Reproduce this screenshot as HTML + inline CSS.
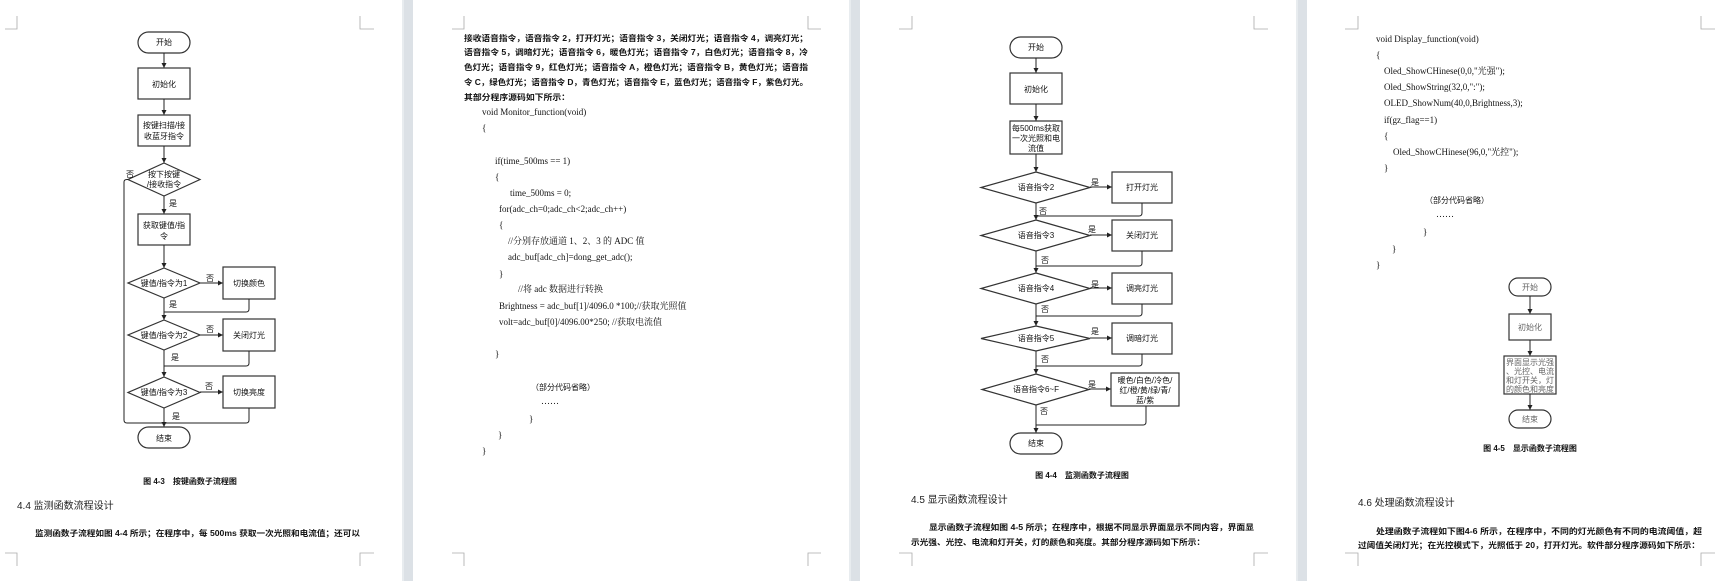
<!DOCTYPE html>
<html><head><meta charset="utf-8"><style>
html,body{margin:0;padding:0;background:#fff;}
svg{display:block}
.c{font-family:"Liberation Sans","Noto Sans CJK SC",sans-serif;font-size:8px;fill:#111;}
.b{font-weight:bold;}
.s{font-family:"Liberation Serif","Noto Serif CJK SC","Noto Sans CJK SC",serif;font-size:9px;fill:#111;}
.h{font-family:"Liberation Sans","Noto Sans CJK SC",sans-serif;font-size:10px;fill:#222;}
.k{stroke:#222;stroke-width:1;fill:none;}
.bx{stroke:#333;stroke-width:1.2;fill:#fff;}
.m{stroke:#aaa;stroke-width:0.8;fill:none;}
</style></head><body>
<svg width="1722" height="581" viewBox="0 0 1722 581" xmlns="http://www.w3.org/2000/svg">
<defs>
<marker id="a" markerWidth="6" markerHeight="6" refX="5" refY="3" orient="auto" markerUnits="userSpaceOnUse"><path d="M0,0.5 L5,3 L0,5.5 z" fill="#222"/></marker>
</defs>
<rect width="1722" height="581" fill="#fff"/>
<rect x="402" y="0" width="11" height="581" fill="#dce1e6"/><rect x="402" y="0" width="2" height="581" fill="#e8ecef"/>
<rect x="849" y="0" width="11" height="581" fill="#dce1e6"/><rect x="849" y="0" width="2" height="581" fill="#e8ecef"/>
<rect x="1296" y="0" width="11" height="581" fill="#dce1e6"/><rect x="1296" y="0" width="2" height="581" fill="#e8ecef"/>

<!-- corner marks -->
<path class="m" d="M5,29H17V16 M374,29H360V16 M5,553H17V566 M374,553H360V566"/>
<path class="m" d="M452,29H464V16 M821,29H808V16 M452,553H464V566 M821,553H808V566"/>
<path class="m" d="M899,29H912V16 M1268,29H1254V16 M899,553H912V566 M1268,553H1254V566"/>
<path class="m" d="M1345,29H1358V16 M1715,29H1701V16 M1345,553H1358V566 M1715,553H1701V566"/>

<!-- PAGE 1 flowchart -->
<rect class="bx" x="138" y="32" width="52" height="21" rx="10.5"/>
<text class="c" x="164" y="45" text-anchor="middle">开始</text>
<line class="k" x1="164" y1="53" x2="164" y2="68" marker-end="url(#a)"/>
<rect class="bx" x="138" y="68" width="52" height="31"/>
<text class="c" x="164" y="87" text-anchor="middle">初始化</text>
<line class="k" x1="164" y1="99" x2="164" y2="115" marker-end="url(#a)"/>
<rect class="bx" x="138" y="115" width="52" height="31"/>
<text class="c" x="164" y="128" text-anchor="middle">按键扫描/接</text>
<text class="c" x="164" y="139" text-anchor="middle">收蓝牙指令</text>
<line class="k" x1="164" y1="146" x2="164" y2="163" marker-end="url(#a)"/>
<path class="bx" d="M164,163 L200,179.5 L164,196 L128,179.5 Z"/>
<text class="c" x="164" y="177" text-anchor="middle">按下按键</text>
<text class="c" x="164" y="187" text-anchor="middle">/接收指令</text>
<text class="c" x="126" y="177">否</text>
<text class="c" x="169" y="206">是</text>
<line class="k" x1="164" y1="196" x2="164" y2="214" marker-end="url(#a)"/>
<rect class="bx" x="138" y="214" width="52" height="31"/>
<text class="c" x="164" y="228" text-anchor="middle">获取键值/指</text>
<text class="c" x="164" y="239" text-anchor="middle">令</text>
<line class="k" x1="164" y1="245" x2="164" y2="268" marker-end="url(#a)"/>
<path class="bx" d="M164,268 L200,283 L164,298 L128,283 Z"/>
<text class="c" x="164" y="286" text-anchor="middle">键值/指令为1</text>
<text class="c" x="206" y="281">否</text>
<line class="k" x1="200" y1="283" x2="223" y2="283" marker-end="url(#a)"/>
<rect class="bx" x="223" y="267" width="52" height="32"/>
<text class="c" x="249" y="286" text-anchor="middle">切换颜色</text>
<text class="c" x="169" y="307">是</text>
<line class="k" x1="164" y1="298" x2="164" y2="320" marker-end="url(#a)"/>
<path class="k" d="M249,299 V309 Q249,312 246,312 H164"/>
<path class="bx" d="M164,320 L200,335 L164,350 L128,335 Z"/>
<text class="c" x="164" y="338" text-anchor="middle">键值/指令为2</text>
<text class="c" x="206" y="332">否</text>
<line class="k" x1="200" y1="335" x2="223" y2="335" marker-end="url(#a)"/>
<rect class="bx" x="223" y="319" width="52" height="32"/>
<text class="c" x="249" y="338" text-anchor="middle">关闭灯光</text>
<text class="c" x="171" y="360">是</text>
<line class="k" x1="164" y1="350" x2="164" y2="377" marker-end="url(#a)"/>
<path class="k" d="M249,351 V363 Q249,366 246,366 H164"/>
<path class="bx" d="M164,377 L200,392.5 L164,408 L128,392.5 Z"/>
<text class="c" x="164" y="395" text-anchor="middle">键值/指令为3</text>
<text class="c" x="205" y="389">否</text>
<line class="k" x1="200" y1="392" x2="223" y2="392" marker-end="url(#a)"/>
<rect class="bx" x="223" y="376" width="52" height="32"/>
<text class="c" x="249" y="395" text-anchor="middle">切换亮度</text>
<text class="c" x="172" y="419">是</text>
<line class="k" x1="164" y1="408" x2="164" y2="427" marker-end="url(#a)"/>
<path class="k" d="M249,408 V420 Q249,423 246,423 H127 Q124,423 124,420 V182 Q124,179.5 127,179.5 H128"/>
<rect class="bx" x="138" y="427" width="52" height="21" rx="10.5"/>
<text class="c" x="164" y="441" text-anchor="middle">结束</text>
<text class="c b" x="190" y="484" text-anchor="middle" font-size="7.5">图 4-3　按键函数子流程图</text>
<text class="h" x="17" y="509">4.4 监测函数流程设计</text>
<text class="c b" x="35" y="536" textLength="325" lengthAdjust="spacingAndGlyphs">监测函数子流程如图 4-4 所示；在程序中，每 500ms 获取一次光照和电流值；还可以</text>

<!-- PAGE 2 -->
<g class="c b">
<text x="464" y="41" textLength="344" lengthAdjust="spacingAndGlyphs">接收语音指令，语音指令 2，打开灯光；语音指令 3，关闭灯光；语音指令 4，调亮灯光；</text>
<text x="464" y="55" textLength="344" lengthAdjust="spacingAndGlyphs">语音指令 5，调暗灯光；语音指令 6，暖色灯光；语音指令 7，白色灯光；语音指令 8，冷</text>
<text x="464" y="70" textLength="344" lengthAdjust="spacingAndGlyphs">色灯光；语音指令 9，红色灯光；语音指令 A，橙色灯光；语音指令 B，黄色灯光；语音指</text>
<text x="464" y="85" textLength="344" lengthAdjust="spacingAndGlyphs">令 C，绿色灯光；语音指令 D，青色灯光；语音指令 E，蓝色灯光；语音指令 F，紫色灯光。</text>
<text x="464" y="100" textLength="106" lengthAdjust="spacingAndGlyphs">其部分程序源码如下所示：</text>
</g>
<g class="s">
<text x="482" y="115">void Monitor_function(void)</text>
<text x="482" y="131">{</text>
<text x="495" y="164">if(time_500ms == 1)</text>
<text x="495" y="180">{</text>
<text x="510" y="196">time_500ms = 0;</text>
<text x="499" y="212">for(adc_ch=0;adc_ch&lt;2;adc_ch++)</text>
<text x="499" y="228">{</text>
<text x="508" y="244">//分别存放通道 1、2、3 的 ADC 值</text>
<text x="508" y="260">adc_buf[adc_ch]=dong_get_adc();</text>
<text x="499" y="277">}</text>
<text x="518" y="292">//将 adc 数据进行转换</text>
<text x="499" y="309">Brightness = adc_buf[1]/4096.0 *100;//获取光照值</text>
<text x="499" y="325">volt=adc_buf[0]/4096.00*250;   //获取电流值</text>
<text x="495" y="357">}</text>
<text x="531" y="390" class="c">（部分代码省略）</text>
<text x="541" y="404">……</text>
<text x="529" y="422">}</text>
<text x="498" y="438">}</text>
<text x="482" y="454">}</text>
</g>

<!-- PAGE 3 flowchart -->
<rect class="bx" x="1010" y="37" width="52" height="21" rx="10.5"/>
<text class="c" x="1036" y="50" text-anchor="middle">开始</text>
<line class="k" x1="1036" y1="58" x2="1036" y2="73" marker-end="url(#a)"/>
<rect class="bx" x="1010" y="73" width="52" height="31"/>
<text class="c" x="1036" y="92" text-anchor="middle">初始化</text>
<line class="k" x1="1036" y1="104" x2="1036" y2="121" marker-end="url(#a)"/>
<rect class="bx" x="1010" y="121" width="52" height="33"/>
<text class="c" x="1036" y="131" text-anchor="middle" font-size="7">每500ms获取</text>
<text class="c" x="1036" y="141" text-anchor="middle" font-size="7">一次光照和电</text>
<text class="c" x="1036" y="151" text-anchor="middle" font-size="7">流值</text>
<line class="k" x1="1036" y1="154" x2="1036" y2="172" marker-end="url(#a)"/>

<path class="bx" d="M1036,172 L1090,187.5 L1036,203 L981,187.5 Z"/>
<text class="c" x="1036" y="190" text-anchor="middle" font-size="7">语音指令2</text>
<text class="c" x="1091" y="185">是</text>
<line class="k" x1="1090" y1="187" x2="1112" y2="187" marker-end="url(#a)"/>
<rect class="bx" x="1112" y="172" width="60" height="31"/>
<text class="c" x="1142" y="190" text-anchor="middle">打开灯光</text>
<text class="c" x="1039" y="214">否</text>
<line class="k" x1="1036" y1="203" x2="1036" y2="220" marker-end="url(#a)"/>
<path class="k" d="M1142,203 V213 Q1142,216 1139,216 H1036"/>

<path class="bx" d="M1036,220 L1090,235.5 L1036,251 L981,235.5 Z"/>
<text class="c" x="1036" y="238" text-anchor="middle" font-size="7">语音指令3</text>
<text class="c" x="1088" y="232">是</text>
<line class="k" x1="1090" y1="235" x2="1112" y2="235" marker-end="url(#a)"/>
<rect class="bx" x="1112" y="220" width="60" height="31"/>
<text class="c" x="1142" y="238" text-anchor="middle">关闭灯光</text>
<text class="c" x="1041" y="263">否</text>
<line class="k" x1="1036" y1="251" x2="1036" y2="273" marker-end="url(#a)"/>
<path class="k" d="M1142,251 V263 Q1142,266 1139,266 H1036"/>

<path class="bx" d="M1036,273 L1090,288.5 L1036,304 L981,288.5 Z"/>
<text class="c" x="1036" y="291" text-anchor="middle" font-size="7">语音指令4</text>
<text class="c" x="1091" y="287">是</text>
<line class="k" x1="1090" y1="288" x2="1112" y2="288" marker-end="url(#a)"/>
<rect class="bx" x="1112" y="273" width="60" height="31"/>
<text class="c" x="1142" y="291" text-anchor="middle">调亮灯光</text>
<text class="c" x="1041" y="312">否</text>
<line class="k" x1="1036" y1="304" x2="1036" y2="326" marker-end="url(#a)"/>
<path class="k" d="M1142,304 V313 Q1142,316 1139,316 H1036"/>

<path class="bx" d="M1036,326 L1090,338.5 L1036,351 L981,338.5 Z"/>
<text class="c" x="1036" y="341" text-anchor="middle" font-size="7">语音指令5</text>
<text class="c" x="1091" y="334">是</text>
<line class="k" x1="1090" y1="338" x2="1112" y2="338" marker-end="url(#a)"/>
<rect class="bx" x="1112" y="323" width="60" height="31"/>
<text class="c" x="1142" y="341" text-anchor="middle">调暗灯光</text>
<text class="c" x="1041" y="362">否</text>
<line class="k" x1="1036" y1="351" x2="1036" y2="374" marker-end="url(#a)"/>
<path class="k" d="M1142,354 V363 Q1142,366 1139,366 H1036"/>

<path class="bx" d="M1036,374 L1089,389.5 L1036,405 L982,389.5 Z"/>
<text class="c" x="1036" y="392" text-anchor="middle" font-size="7">语音指令6~F</text>
<text class="c" x="1088" y="387">是</text>
<line class="k" x1="1089" y1="389" x2="1111" y2="389" marker-end="url(#a)"/>
<rect class="bx" x="1111" y="373" width="68" height="33"/>
<text class="c" x="1145" y="383" text-anchor="middle" font-size="7.5">暖色/白色/冷色/</text>
<text class="c" x="1145" y="393" text-anchor="middle" font-size="7.5">红/橙/黄/绿/青/</text>
<text class="c" x="1145" y="403" text-anchor="middle" font-size="7.5">蓝/紫</text>
<text class="c" x="1040" y="414">否</text>
<line class="k" x1="1036" y1="405" x2="1036" y2="433" marker-end="url(#a)"/>
<path class="k" d="M1146,406 V422 Q1146,425 1143,425 H1036"/>
<rect class="bx" x="1010" y="433" width="52" height="21" rx="10.5"/>
<text class="c" x="1036" y="446" text-anchor="middle">结束</text>
<text class="c b" x="1082" y="478" text-anchor="middle" font-size="7.5">图 4-4　监测函数子流程图</text>
<text class="h" x="911" y="503">4.5 显示函数流程设计</text>
<text class="c b" x="929" y="530" textLength="325" lengthAdjust="spacingAndGlyphs">显示函数子流程如图 4-5 所示；在程序中，根据不同显示界面显示不同内容，界面显</text>
<text class="c b" x="911" y="545" textLength="294" lengthAdjust="spacingAndGlyphs">示光强、光控、电流和灯开关，灯的颜色和亮度。其部分程序源码如下所示：</text>

<!-- PAGE 4 -->
<g class="s">
<text x="1376" y="42">void Display_function(void)</text>
<text x="1376" y="58">{</text>
<text x="1384" y="74">Oled_ShowCHinese(0,0,"光强");</text>
<text x="1384" y="90">Oled_ShowString(32,0,":");</text>
<text x="1384" y="106">OLED_ShowNum(40,0,Brightness,3);</text>
<text x="1384" y="123">if(gz_flag==1)</text>
<text x="1384" y="139">{</text>
<text x="1393" y="155">Oled_ShowCHinese(96,0,"光控");</text>
<text x="1384" y="171">}</text>
<text x="1425" y="203" class="c">（部分代码省略）</text>
<text x="1436" y="217">……</text>
<text x="1423" y="235">}</text>
<text x="1392" y="252">}</text>
<text x="1376" y="268">}</text>
</g>
<rect class="bx" x="1509" y="278" width="42" height="18" rx="9"/>
<text class="c" x="1530" y="290" text-anchor="middle" font-size="7" style="fill:#666">开始</text>
<line class="k" x1="1530" y1="296" x2="1530" y2="314" marker-end="url(#a)"/>
<rect class="bx" x="1509" y="314" width="42" height="26"/>
<text class="c" x="1530" y="330" text-anchor="middle" font-size="7" style="fill:#666">初始化</text>
<line class="k" x1="1530" y1="340" x2="1530" y2="356" marker-end="url(#a)"/>
<rect class="bx" x="1504" y="356" width="52" height="38"/>
<g class="c" font-size="6.5" style="fill:#666" text-anchor="middle">
<text x="1530" y="365">界面显示光强</text>
<text x="1530" y="374">、光控、电流</text>
<text x="1530" y="383">和灯开关，灯</text>
<text x="1530" y="392">的颜色和亮度</text>
</g>
<line class="k" x1="1530" y1="394" x2="1530" y2="410" marker-end="url(#a)"/>
<rect class="bx" x="1509" y="410" width="42" height="18" rx="9"/>
<text class="c" x="1530" y="422" text-anchor="middle" font-size="7" style="fill:#666">结束</text>
<text class="c b" x="1530" y="451" text-anchor="middle" font-size="7">图 4-5　显示函数子流程图</text>
<text class="h" x="1358" y="506">4.6 处理函数流程设计</text>
<text class="c b" x="1376" y="534" textLength="326" lengthAdjust="spacingAndGlyphs">处理函数子流程如下图4-6 所示，在程序中，不同的灯光颜色有不同的电流阈值，超</text>
<text class="c b" x="1358" y="548" textLength="342" lengthAdjust="spacingAndGlyphs">过阈值关闭灯光；在光控模式下，光照低于 20，打开灯光。软件部分程序源码如下所示：</text>
</svg>
</body></html>
